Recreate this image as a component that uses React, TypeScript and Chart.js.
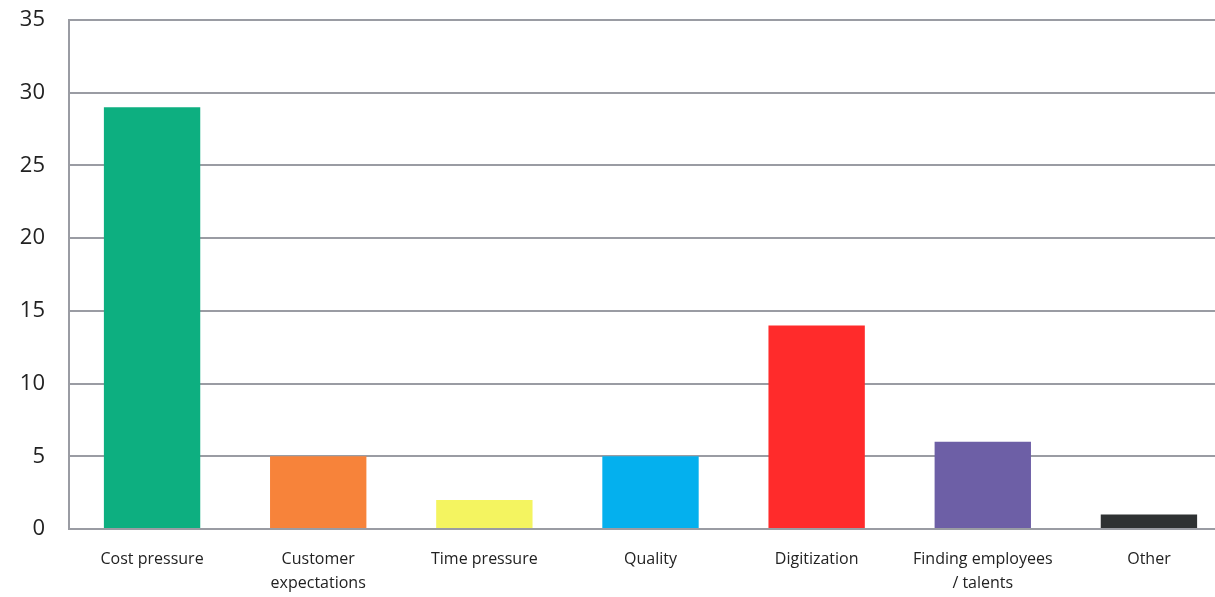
import React, { useEffect, useRef } from "react";
import { Chart, registerables } from "chart.js";

Chart.register(...registerables);

const categories: (string | string[])[] = [
  "Cost pressure",
  ["Customer", "expectations"],
  "Time pressure",
  "Quality",
  "Digitization",
  ["Finding employees", "/ talents"],
  "Other",
];
const values: number[] = [29, 5, 2, 5, 14, 6, 1];
const barColors: string[] = [
  "#0DAF80",
  "#F7833A",
  "#F4F460",
  "#04B0EE",
  "#FF2B2B",
  "#6D5FA6",
  "#2F3233",
];
const yTicks: number[] = [0, 5, 10, 15, 20, 25, 30, 35];

export default function App() {
  const ref = useRef<HTMLCanvasElement | null>(null);
  useEffect(() => {
    if (!ref.current) return;
    const chart = new Chart(ref.current, {
      type: "bar",
      data: {
        labels: categories,
        datasets: [
          {
            data: values,
            backgroundColor: barColors,
            borderWidth: 0,
            barPercentage: 0.58,
            categoryPercentage: 1,
          },
        ],
      },
      options: {
        animation: false,
        responsive: false,
        maintainAspectRatio: false,
        layout: { padding: { top: 20, left: 0, right: 0, bottom: 0 } },
        plugins: { legend: { display: false }, tooltip: { enabled: false } },
        scales: {
          x: {
            grid: { display: false, drawTicks: false },
            border: { display: true, color: "#9A9CA3", width: 2 },
            ticks: {
              color: "#222",
              font: { family: "Open Sans", size: 16, lineHeight: 1.5 },
              padding: 18,
              maxRotation: 0,
              autoSkip: false,
            },
            afterFit: (s: any) => {
              s.height = 68;
              s.paddingLeft = 0;
              s.paddingRight = 0;
            },
          },
          y: {
            min: 0,
            max: 35,
            afterBuildTicks: (s: any) => {
              s.ticks = yTicks.map((v) => ({ value: v }));
            },
            grid: { color: "#9A9CA3", lineWidth: 2, drawTicks: false },
            border: { display: true, color: "#9A9CA3", width: 2 },
            ticks: {
              color: "#222",
              font: { family: "Open Sans", size: 22 },
              padding: 24,
            },
            afterFit: (s: any) => {
              s.width = 69;
              s.paddingTop = 0;
              s.paddingBottom = 0;
            },
          },
        },
      },
    });
    return () => chart.destroy();
  }, []);
  return (
    <div
      style={{
        position: "fixed",
        left: 0,
        top: 0,
        width: 1215,
        height: 597,
        overflow: "hidden",
        background: "#fff",
      }}
    >
      <canvas ref={ref} width={1232} height={597} style={{ display: "block" }} />
    </div>
  );
}
